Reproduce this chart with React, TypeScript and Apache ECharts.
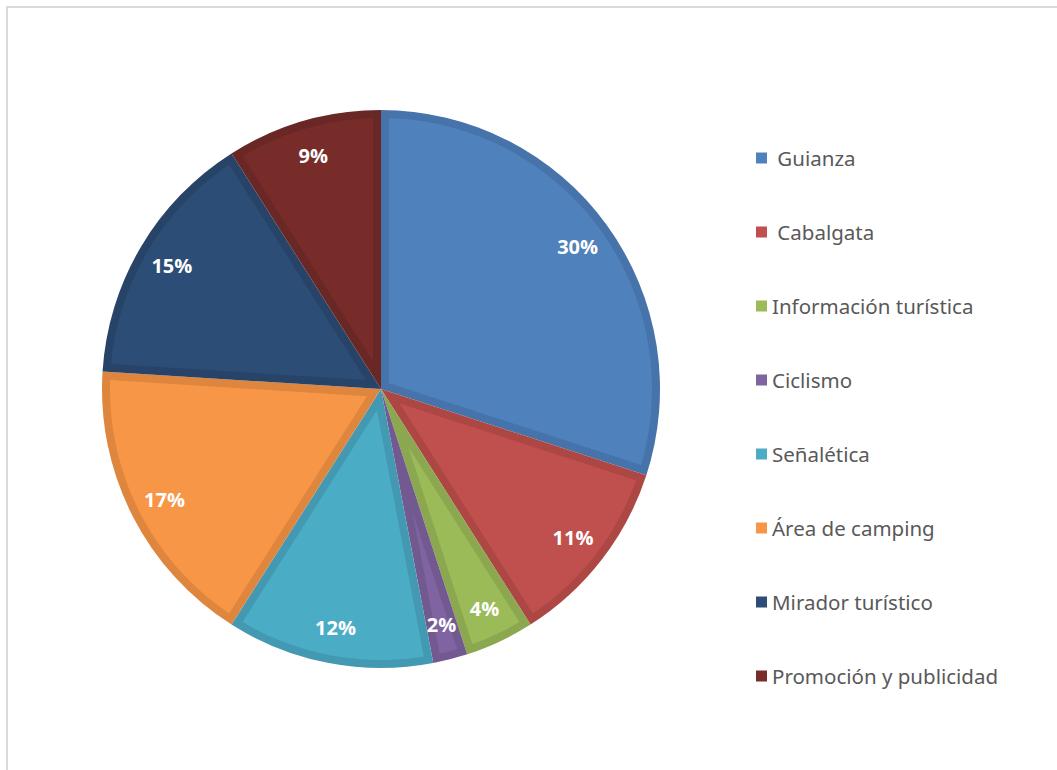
import React, { useEffect, useRef } from "react";
import * as echarts from "echarts";

const categories = [
  " Guianza",
  " Cabalgata",
  "Información turística",
  "Ciclismo",
  "Señalética",
  "Área de camping",
  "Mirador turístico",
  "Promoción y publicidad",
];
const values = [30, 11, 4, 2, 12, 17, 15, 9];
const fillColors = ["#4F81BD", "#C0504D", "#9BBB59", "#8064A2", "#4BACC6", "#F79646", "#2C4D75", "#772C2A"];
const borderColors = ["#4773AB", "#AC4744", "#8BA74F", "#725A91", "#4399B1", "#DE853E", "#274468", "#692725"];

const CX = 373;
const CY = 381;
const R = 279;
const INSET = 8;

export default function App() {
  const ref = useRef<HTMLDivElement>(null);
  useEffect(() => {
    if (!ref.current) return;
    const chart = echarts.init(ref.current, null, { renderer: "svg" });
    const total = values.reduce((a, b) => a + b, 0);
    const starts = values.map((_, i) => values.slice(0, i).reduce((a, b) => a + b, 0));
    const pt = (theta: number, r: number) => [CX + r * Math.sin(theta), CY - r * Math.cos(theta)];

    const edgeData = categories.map((name, i) => ({
      name,
      value: values[i],
      itemStyle: { color: borderColors[i] },
    }));
    const labelData = categories.map((name, i) => ({ name, value: values[i] }));

    chart.setOption({
      animation: false,
      backgroundColor: "#ffffff",
      legend: {
        orient: "vertical",
        left: 743,
        top: 134,
        itemWidth: 11,
        itemHeight: 11,
        itemGap: 52,
        icon: "rect",
        data: categories.map((name, i) => ({ name, itemStyle: { color: fillColors[i] } })),
        selectedMode: false,
        textStyle: {
          fontFamily: "Noto Sans",
          fontSize: 20.5,
          color: "#595959",
          lineHeight: 22,
        },
      },
      series: [
        {
          type: "pie",
          z: 2,
          center: [CX, CY],
          radius: [0, R],
          startAngle: 90,
          clockwise: true,
          silent: true,
          label: { show: false },
          labelLine: { show: false },
          emphasis: { disabled: true },
          itemStyle: { borderWidth: 0 },
          data: edgeData,
        },
        {
          type: "custom",
          z: 3,
          coordinateSystem: "none",
          silent: true,
          data: values,
          renderItem: (params: any, api: any) => {
            const i = params.dataIndex;
            const v = api.value(0);
            const t0 = (starts[i] / total) * Math.PI * 2;
            const span = (v / total) * Math.PI * 2;
            const t1 = t0 + span;
            const rho = R - INSET;
            const apexDist = INSET / Math.sin(span / 2);
            const apex = pt(t0 + span / 2, apexDist);
            const dA = Math.asin(INSET / rho);
            const a0 = t0 + dA;
            const a1 = t1 - dA;
            const points: number[][] = [apex];
            const steps = Math.max(2, Math.ceil(((a1 - a0) * 180) / Math.PI));
            for (let k = 0; k <= steps; k++) {
              points.push(pt(a0 + ((a1 - a0) * k) / steps, rho));
            }
            return {
              type: "polygon",
              shape: { points },
              style: { fill: fillColors[i] },
            };
          },
        },
        {
          type: "pie",
          z: 4,
          center: [CX, CY],
          radius: [205, 275],
          startAngle: 90,
          clockwise: true,
          silent: true,
          avoidLabelOverlap: false,
          itemStyle: { color: "rgba(0,0,0,0)", borderWidth: 0 },
          label: {
            show: true,
            position: "inside",
            formatter: "{c}%",
            color: "#ffffff",
            fontFamily: "Open Sans",
            fontWeight: "bold",
            fontSize: 20,
          },
          labelLine: { show: false },
          emphasis: { disabled: true },
          data: labelData,
        },
      ],
    });
    return () => chart.dispose();
  }, []);
  return (
    <div
      style={{
        position: "absolute",
        left: 6,
        top: 6,
        width: 1060,
        height: 780,
        border: "2px solid #d9d9d9",
        boxSizing: "border-box",
        background: "#fff",
      }}
    >
      <div ref={ref} style={{ width: 1050, height: 770 }} />
    </div>
  );
}
